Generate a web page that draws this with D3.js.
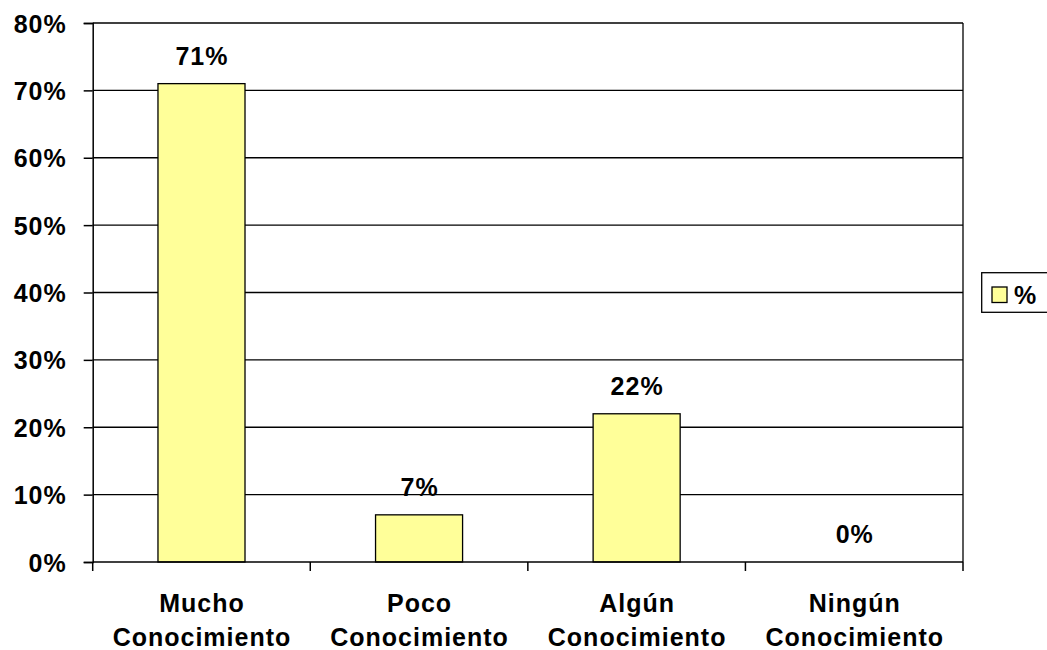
<!DOCTYPE html>
<html><head><meta charset="utf-8">
<script src="https://cdn.jsdelivr.net/npm/d3@7"></script>
<style>body{margin:0;background:#fff;overflow:hidden}svg{display:block}text{font-family:"Liberation Sans",Arial,sans-serif;font-weight:bold;fill:#000;letter-spacing:1px}</style>
</head><body><svg id="c" width="1047" height="650"></svg>
<script>
const categories = [["Mucho","Conocimiento"],["Poco","Conocimiento"],["Algún","Conocimiento"],["Ningún","Conocimiento"]];
const values = [71, 7, 22, 0];
const yTicks = [0,10,20,30,40,50,60,70,80];
const seriesName = "%";

const svg = d3.select("#c");
const L = 92.7, R = 963, T = 23, B = 562;
const x = d3.scaleBand().domain(d3.range(categories.length)).range([L, R]).paddingInner(0).paddingOuter(0);
const y = d3.scaleLinear().domain([0, 80]).range([B, T]);
const fs = 25;

// gridlines
svg.append("g").selectAll("line").data(yTicks.filter(d => d > 0)).join("line")
  .attr("x1", L).attr("x2", R).attr("y1", d => y(d)).attr("y2", d => y(d))
  .attr("stroke", "#000").attr("stroke-width", 1.3);
// right border
svg.append("line").attr("x1", R).attr("x2", R).attr("y1", T).attr("y2", B).attr("stroke", "#000").attr("stroke-width", 1.3);

// bars
const bw = x.bandwidth() * 0.4;
svg.append("g").selectAll("rect").data(values).join("rect")
  .attr("x", (d, i) => x(i) + x.bandwidth() / 2 - bw / 2)
  .attr("width", bw)
  .attr("y", d => y(d)).attr("height", d => B - y(d))
  .attr("fill", "#FFFF99").attr("stroke", "#000").attr("stroke-width", 1.3);

// value labels
svg.append("g").selectAll("text").data(values).join("text")
  .attr("x", (d, i) => x(i) + x.bandwidth() / 2 + 0.5)
  .attr("y", d => y(d) - 19)
  .attr("text-anchor", "middle").attr("font-size", fs)
  .text(d => d + "%");

// y axis
const yAxis = d3.axisLeft(y).tickValues(yTicks).tickSize(9).tickPadding(17).tickFormat(d => d + "%");
const ya = svg.append("g").attr("transform", `translate(${L},0)`).call(yAxis);
ya.select(".domain").attr("stroke", "#000").attr("stroke-width", 1.5);
ya.selectAll(".tick line").attr("stroke", "#000").attr("stroke-width", 1.5);
ya.selectAll(".tick text").attr("font-size", fs).attr("font-family", null).attr("dy", "0.36em");

// x axis
const xa = svg.append("g").attr("transform", `translate(0,${B})`);
xa.append("line").attr("x1", L).attr("x2", R).attr("stroke", "#000").attr("stroke-width", 1.5);
const tickPos = d3.range(categories.length + 1).map(i => i < categories.length ? x(i) : R);
xa.selectAll("line.t").data(tickPos).join("line").attr("class", "t")
  .attr("x1", d => d).attr("x2", d => d).attr("y1", 0).attr("y2", 9)
  .attr("stroke", "#000").attr("stroke-width", 1.5);
xa.selectAll("text").data(categories).join("text")
  .attr("text-anchor", "middle").attr("font-size", fs)
  .attr("x", (d, i) => x(i) + x.bandwidth() / 2 + 0.5)
  .each(function(d) {
    d3.select(this).selectAll("tspan").data(d).join("tspan")
      .attr("x", d3.select(this).attr("x"))
      .attr("y", (t, j) => 49.5 + j * 34)
      .text(t => t);
  });

// legend
const lg = svg.append("g");
lg.append("rect").attr("x", 981.7).attr("y", 272.7).attr("width", 80).attr("height", 39.6)
  .attr("fill", "#fff").attr("stroke", "#000").attr("stroke-width", 1.3);
lg.append("rect").attr("x", 992).attr("y", 287).attr("width", 15).attr("height", 15.5)
  .attr("fill", "#FFFF99").attr("stroke", "#000").attr("stroke-width", 1.3);
lg.append("text").attr("x", 1014).attr("y", 303.5).attr("font-size", fs).text(seriesName);
</script></body></html>
